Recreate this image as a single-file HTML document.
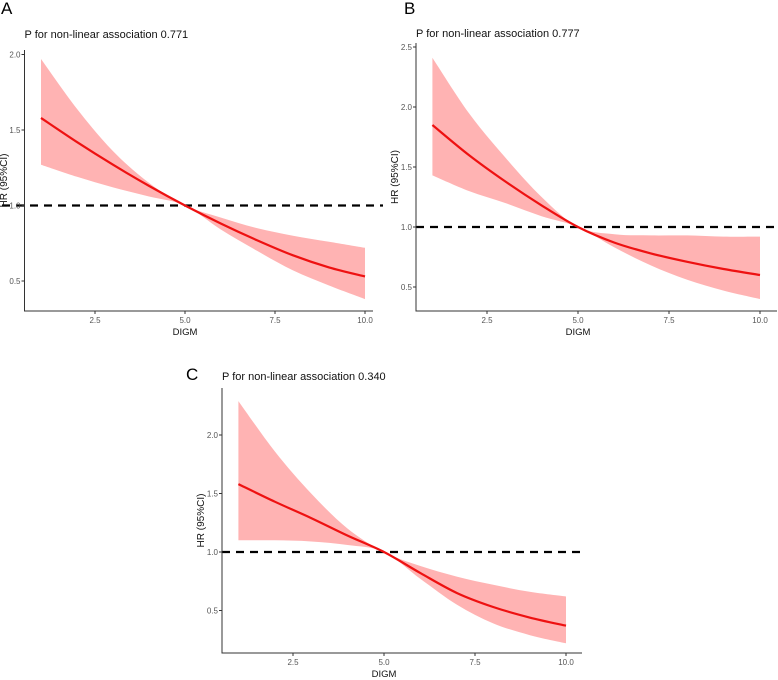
<!DOCTYPE html>
<html><head><meta charset="utf-8"><style>
body{margin:0;background:#fff;}
svg{display:block;font-family:"Liberation Sans",Arial,sans-serif;}
</style></head><body>
<svg id="fig" width="778" height="680" viewBox="0 0 778 680"></svg>
<script>
const xs = [1,2,3,4,5,6,7,8,9,10];
const fitA = [1.58,1.42,1.27,1.13,1.0,0.88,0.77,0.67,0.59,0.53];
const upA  = [1.97,1.64,1.36,1.15,1.0,0.92,0.85,0.80,0.76,0.72];
const loA  = [1.27,1.19,1.12,1.06,1.0,0.84,0.70,0.57,0.47,0.38];
const fitB = [1.85,1.60,1.38,1.18,1.0,0.87,0.78,0.71,0.65,0.60];
const upB  = [2.41,1.95,1.58,1.25,1.0,0.94,0.93,0.93,0.92,0.92];
const loB  = [1.43,1.30,1.20,1.09,1.0,0.83,0.68,0.56,0.47,0.40];
const fitC = [1.58,1.43,1.29,1.14,1.0,0.82,0.65,0.53,0.44,0.37];
const upC  = [2.29,1.86,1.50,1.20,1.0,0.88,0.79,0.72,0.66,0.62];
const loC  = [1.10,1.10,1.09,1.06,1.0,0.77,0.55,0.39,0.29,0.22];
const xTicks = [2.5,5.0,7.5,10.0];
const yTicksA = [0.5,1.0,1.5,2.0];
const yTicksB = [0.5,1.0,1.5,2.0,2.5];
const yTicksC = [0.5,1.0,1.5,2.0];

const NS="http://www.w3.org/2000/svg";
const svg=document.getElementById('fig');
function mk(tag,attrs,parent){const e=document.createElementNS(NS,tag);for(const k in attrs)e.setAttribute(k,attrs[k]);(parent||svg).appendChild(e);return e;}
function smooth(pts){
  let d="M"+pts[0][0]+","+pts[0][1];
  for(let i=0;i<pts.length-1;i++){
    const p0=pts[Math.max(i-1,0)],p1=pts[i],p2=pts[i+1],p3=pts[Math.min(i+2,pts.length-1)];
    const c1=[p1[0]+(p2[0]-p0[0])/6,p1[1]+(p2[1]-p0[1])/6];
    const c2=[p2[0]-(p3[0]-p1[0])/6,p2[1]-(p3[1]-p1[1])/6];
    d+=" C"+c1[0]+","+c1[1]+" "+c2[0]+","+c2[1]+" "+p2[0]+","+p2[1];
  }
  return d;
}
function panel(cfg){
  const g=mk('g',{});
  
  
  const X=v=>cfg.x0+(v-2.5)*(cfg.x10-cfg.x0)/7.5;
  const Y=v=>cfg.y1-(v-1)*cfg.ppu;
  // band
  const up=xs.map((x,i)=>[X(x),Y(cfg.up[i])]);
  const lo=xs.map((x,i)=>[X(x),Y(cfg.lo[i])]).reverse();
  let d=smooth(up)+" L"+lo[0][0]+","+lo[0][1]+smooth(lo).replace(/^M[^C]*/," ")+" Z";
  const band=mk('path',{d:d,fill:'#ffb3b3',stroke:'none'},g);
  
  
  // reference line
  const ref=mk('line',{x1:cfg.left,x2:cfg.right,y1:Y(1),y2:Y(1),stroke:'#000','stroke-width':2.2,'stroke-dasharray':'8,6'},g);
  
  
  // fit
  const fit=mk('path',{d:smooth(xs.map((x,i)=>[X(x),Y(cfg.fit[i])])),fill:'none',stroke:'#ee1111','stroke-width':2.2},g);
  
  
  // axes
  const ax=mk('path',{d:`M${cfg.axL},${cfg.top} V${cfg.bot} H${cfg.axR}`,fill:'none',stroke:'#333','stroke-width':1},g);
  
  
  xTicks.forEach(t=>{
    mk('line',{x1:X(t),x2:X(t),y1:cfg.bot,y2:cfg.bot+3,stroke:'#333'},g);
    const tx=mk('text',{x:X(t),y:cfg.bot+12,'font-size':8,fill:'#555','text-anchor':'middle'},g);
    tx.textContent=t.toFixed(1);
    
    
  });
  cfg.yt.forEach(t=>{
    mk('line',{x1:cfg.axL-3,x2:cfg.axL,y1:Y(t),y2:Y(t),stroke:'#333'},g);
    const tx=mk('text',{x:cfg.axL-4,y:Y(t)+3,'font-size':8,fill:'#555','text-anchor':'end'},g);
    tx.textContent=t.toFixed(1);
    
    
  });
  const t=mk('text',{x:cfg.axL,y:cfg.titleY,'font-size':11,fill:'#111'},g);
  t.textContent='P for non-linear association '+cfg.p;
  
  
  const xl=mk('text',{x:X(5),y:cfg.bot+24,'font-size':9.5,fill:'#111','text-anchor':'middle'},g);
  xl.textContent='DIGM';
  
  
  const yc=(cfg.top+cfg.bot)/2;
  const yl=mk('text',{x:cfg.ylx,y:yc,'font-size':10,fill:'#111','text-anchor':'middle',transform:`rotate(-90 ${cfg.ylx} ${yc})`},g);
  yl.textContent='HR (95%CI)';
  
  
  const lab=mk('text',{x:cfg.labX,y:cfg.labY,'font-size':17,fill:'#000'},g);
  lab.textContent=cfg.id;
  
  
}
panel({id:'A',x0:95,x10:365,y1:205.5,ppu:151,left:2,right:383,axL:24.5,axR:373,top:50,bot:311,titleY:38,ylx:7,labX:1,labY:14,p:'0.771',fit:fitA,up:upA,lo:loA,yt:yTicksA});
panel({id:'B',x0:487,x10:760,y1:227,ppu:120,left:416,right:777,axL:416,axR:777,top:43,bot:311,titleY:37,ylx:398,labX:404,labY:14,p:'0.777',fit:fitB,up:upB,lo:loB,yt:yTicksB});
panel({id:'C',x0:293,x10:566,y1:552,ppu:117,left:222,right:582,axL:222,axR:582,top:388,bot:653,titleY:380,ylx:204,labX:186,labY:380,p:'0.340',fit:fitC,up:upC,lo:loC,yt:yTicksC});
</script>
</body></html>
